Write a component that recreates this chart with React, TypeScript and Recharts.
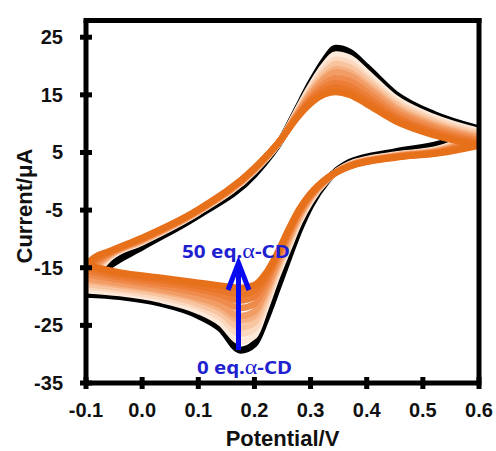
import React from "react";
import { LineChart, Line, XAxis, YAxis, ReferenceLine } from "recharts";

// potentials (V) for the anodic (forward) and cathodic (reverse) sweeps, both ascending
const potentialFwd = [-0.1, -0.085, -0.06, 0, 0.1, 0.2, 0.25, 0.275, 0.3, 0.325, 0.345, 0.37, 0.4, 0.45, 0.52, 0.6];
const potentialRev = [-0.1, -0.04, 0.03, 0.1, 0.14, 0.175, 0.2, 0.22, 0.24, 0.26, 0.28, 0.3, 0.33, 0.37, 0.45, 0.53, 0.6];

// current (uA), forward sweep
const fwd0 = [-19.6, -16.9, -14.8, -11.4, -5.9, 1.2, 7.6, 12.3, 17.0, 21.0, 23.1, 22.4, 19.8, 15.2, 11.6, 9.1];
const fwd2 = [-18.9, -16.4, -13.5, -10.6, -5.4, 1.8, 7.6, 12.1, 16.5, 20.2, 22.0, 21.4, 18.9, 14.5, 11.1, 8.7];
const fwd5 = [-18.3, -15.9, -13.3, -10.5, -5.3, 1.8, 7.6, 11.9, 16.1, 19.5, 21.1, 20.5, 18.1, 14.0, 10.7, 8.4];
const fwd8 = [-17.8, -15.6, -13.1, -10.4, -5.3, 1.9, 7.6, 11.8, 15.7, 18.9, 20.4, 19.7, 17.5, 13.5, 10.3, 8.1];
const fwd10 = [-17.2, -15.2, -13.0, -10.3, -5.2, 2.0, 7.6, 11.6, 15.4, 18.2, 19.5, 18.9, 16.8, 13.0, 9.9, 7.7];
const fwd15 = [-16.8, -14.9, -12.8, -10.2, -5.1, 2.0, 7.6, 11.5, 15.1, 17.8, 18.9, 18.3, 16.3, 12.6, 9.6, 7.5];
const fwd20 = [-16.1, -14.4, -12.6, -10.1, -5.1, 2.1, 7.6, 11.3, 14.6, 17.0, 17.9, 17.4, 15.5, 12.0, 9.2, 7.1];
const fwd30 = [-15.5, -13.9, -12.5, -10.0, -5.0, 2.2, 7.6, 11.2, 14.2, 16.3, 17.0, 16.5, 14.7, 11.4, 8.7, 6.8];
const fwd40 = [-15.0, -13.6, -12.3, -9.9, -5.0, 2.2, 7.6, 11.0, 13.9, 15.7, 16.3, 15.7, 14.0, 11.0, 8.4, 6.5];
const fwd50 = [-14.5, -13.2, -12.2, -9.8, -4.9, 2.3, 7.6, 10.9, 13.5, 15.1, 15.5, 15.0, 13.4, 10.5, 8.0, 6.2];

// current (uA), reverse sweep
const rev0 = [-19.6, -20.0, -21.1, -23.3, -25.6, -29.3, -28.2, -24.0, -18.8, -13.5, -8.4, -4.2, 0.2, 3.3, 5.1, 6.5, 9.1];
const rev2 = [-18.9, -19.4, -20.5, -22.5, -24.6, -27.8, -26.8, -22.0, -16.6, -11.8, -7.1, -3.5, 0.3, 3.0, 4.6, 5.7, 8.7];
const rev5 = [-18.3, -18.9, -20.0, -21.8, -23.7, -26.5, -25.6, -21.2, -16.0, -11.3, -6.8, -3.3, 0.3, 2.9, 4.5, 5.6, 8.4];
const rev8 = [-17.8, -18.5, -19.5, -21.3, -22.9, -25.4, -24.5, -20.4, -15.4, -10.8, -6.4, -3.0, 0.3, 2.9, 4.5, 5.5, 8.1];
const rev10 = [-17.2, -18.0, -19.0, -20.6, -22.1, -24.2, -23.4, -19.6, -14.9, -10.4, -6.1, -2.9, 0.4, 2.8, 4.4, 5.4, 7.7];
const rev15 = [-16.8, -17.7, -18.7, -20.2, -21.5, -23.4, -22.6, -19.0, -14.5, -10.0, -5.9, -2.7, 0.4, 2.8, 4.3, 5.3, 7.5];
const rev20 = [-16.1, -17.1, -18.1, -19.4, -20.5, -22.0, -21.3, -18.1, -13.8, -9.5, -5.5, -2.5, 0.5, 2.7, 4.3, 5.2, 7.1];
const rev30 = [-15.5, -16.6, -17.6, -18.7, -19.6, -20.7, -20.0, -17.3, -13.3, -9.1, -5.2, -2.4, 0.5, 2.7, 4.2, 5.1, 6.8];
const rev40 = [-15.0, -16.2, -17.1, -18.2, -18.9, -19.6, -19.0, -16.6, -12.9, -8.8, -5.0, -2.2, 0.6, 2.6, 4.2, 5.0, 6.5];
const rev50 = [-14.5, -15.8, -16.7, -17.6, -18.1, -18.5, -18.0, -16.0, -12.6, -8.5, -4.8, -2.1, 0.6, 2.6, 4.1, 4.9, 6.2];

const eqLevels = [0, 2, 5, 8, 10, 15, 20, 30, 40, 50];
const fwdCurrents = [fwd0, fwd2, fwd5, fwd8, fwd10, fwd15, fwd20, fwd30, fwd40, fwd50];
const revCurrents = [rev0, rev2, rev5, rev8, rev10, rev15, rev20, rev30, rev40, rev50];
const colors = ["#000000", "#fde9da", "#fbd8be", "#f8c5a0", "#f5b183", "#f29d66", "#ef8b4c", "#ec7e37", "#e97628", "#e7701b"];

const xTicks = [-0.1, 0, 0.1, 0.2, 0.3, 0.4, 0.5, 0.6];
const yTicks = [-35, -25, -15, -5, 5, 15, 25];
const Y_MAX = 27.9;

const PLOT_LEFT = 86;
const PLOT_BOTTOM = 383;
const FONT = '"Liberation Sans", Arial, sans-serif';

const series = eqLevels.map((eq, k) => ({
    eq,
    color: colors[k],
    width: eq === 0 ? 7 : 6.5,
    fwd: potentialFwd.map((v, j) => ({ v, i: fwdCurrents[k][j] })),
    rev: potentialRev.map((v, j) => ({ v, i: revCurrents[k][j] })),
}));

const XTick = (props: any) => {
    const { x, payload } = props;
    return (
        <g>
            <line x1={x} x2={x} y1={PLOT_BOTTOM - 6} y2={PLOT_BOTTOM + 6} stroke="#000" strokeWidth={5} />
            <text x={x} y={417} textAnchor="middle" fontSize={20} fontWeight="bold" fontFamily={FONT} fill="#111">
                {Number(payload.value).toFixed(1)}
            </text>
        </g>
    );
};

const YTick = (props: any) => {
    const { y, payload } = props;
    return (
        <g>
            <line x1={PLOT_LEFT - 6} x2={PLOT_LEFT + 6} y1={y} y2={y} stroke="#000" strokeWidth={5} />
            <text x={63} y={y + 7} textAnchor="end" fontSize={20} fontWeight="bold" fontFamily={FONT} fill="#111">
                {payload.value}
            </text>
        </g>
    );
};

const XTitle = () => (
    <text x={282.5} y={446} textAnchor="middle" fontSize={22} fontWeight="bold" fontFamily={FONT} fill="#111">
        Potential/V
    </text>
);

const YTitle = () => (
    <text
        x={32}
        y={206}
        transform="rotate(-90 32 206)"
        textAnchor="middle"
        fontSize={22}
        fontWeight="bold"
        fontFamily={FONT}
        fill="#111"
    >
        Current/μA
    </text>
);

const Alpha = () => (
    <tspan fontFamily='"Liberation Serif", "DejaVu Serif", serif' fontWeight="normal" fontSize={21}>
        α
    </tspan>
);

export default function App() {
    return (
        <div style={{ position: "absolute", left: 0, top: 0, width: 496, height: 451, background: "#fff" }}>
            <LineChart width={496} height={451} margin={{ top: 20.5, right: 17, left: 16, bottom: 28 }}>
                {series.map((s) => [
                    <Line
                        key={`f${s.eq}`}
                        data={s.fwd}
                        dataKey="i"
                        type="monotone"
                        stroke={s.color}
                        strokeWidth={s.width}
                        strokeLinecap="round"
                        dot={false}
                        activeDot={false}
                        isAnimationActive={false}
                    />,
                    <Line
                        key={`r${s.eq}`}
                        data={s.rev}
                        dataKey="i"
                        type="monotone"
                        stroke={s.color}
                        strokeWidth={s.width}
                        strokeLinecap="round"
                        dot={false}
                        activeDot={false}
                        isAnimationActive={false}
                    />,
                ])}
                <ReferenceLine y={Y_MAX} stroke="#000" strokeWidth={5} strokeLinecap="square" />
                <ReferenceLine x={0.6} stroke="#000" strokeWidth={5} strokeLinecap="square" />
                <XAxis
                    dataKey="v"
                    type="number"
                    domain={[-0.1, 0.6]}
                    ticks={xTicks}
                    allowDataOverflow
                    height={40}
                    tickLine={false}
                    tick={<XTick />}
                    axisLine={{ stroke: "#000", strokeWidth: 5 }}
                    label={<XTitle />}
                />
                <YAxis
                    type="number"
                    domain={[-35, Y_MAX]}
                    ticks={yTicks}
                    allowDataOverflow
                    width={70}
                    tickLine={false}
                    tick={<YTick />}
                    axisLine={{ stroke: "#000", strokeWidth: 5 }}
                    label={<YTitle />}
                />
            </LineChart>

            {/* annotation: arrow from 0 eq to 50 eq */}
            <svg width={496} height={451} style={{ position: "absolute", left: 0, top: 0, pointerEvents: "none" }}>
                <line x1={238.5} y1={350} x2={238.5} y2={265} stroke="#0a0af0" strokeWidth={5} />
                <polyline
                    points="228,290 238.5,263 249,290"
                    fill="none"
                    stroke="#0a0af0"
                    strokeWidth={5}
                    strokeLinejoin="miter"
                />
                <text x={182} y={258} fontSize={18} fontWeight="bold" fontFamily='"Noto Sans", sans-serif' fill="#2020d0" textLength={108} lengthAdjust="spacingAndGlyphs">
                    50 eq.<Alpha />-CD
                </text>
                <text x={197} y={374} fontSize={18} fontWeight="bold" fontFamily='"Noto Sans", sans-serif' fill="#2020d0" textLength={95} lengthAdjust="spacingAndGlyphs">
                    0 eq.<Alpha />-CD
                </text>
            </svg>
        </div>
    );
}
